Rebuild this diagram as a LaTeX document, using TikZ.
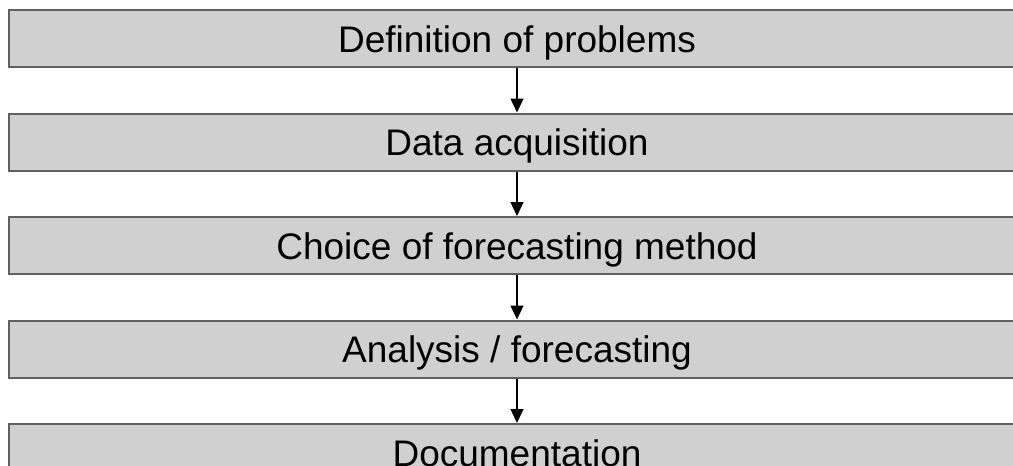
\documentclass[tikz,border=0pt]{standalone}
\usepackage{fontspec}
\setmainfont{Liberation Sans}
\usetikzlibrary{positioning,arrows.meta}
\definecolor{boxgray}{HTML}{D0D0D0}
\definecolor{edgegray}{HTML}{606060}
\tikzset{
  stagebox/.style={draw=edgegray, fill=boxgray, line width=2pt, minimum width=1016pt, minimum height=57pt, inner sep=0pt, text height=27pt, text depth=0pt, font=\fontsize{37}{40}\selectfont},
  flow/.style={-{Triangle[width=13pt,length=14pt]}, line width=1.3pt, black}
}
\begin{document}
\begin{tikzpicture}
\useasboundingbox (0,0) rectangle (1013pt,-466pt);
\node[stagebox] (def) at (517pt,-38.5pt) {Definition of problems};
\node[stagebox, below=44.5pt of def] (data) {Data acquisition};
\node[stagebox, below=44.5pt of data] (choice) {Choice of forecasting method};
\node[stagebox, below=44.5pt of choice] (fore) {Analysis / forecasting};
\node[stagebox, below=44.5pt of fore] (doc) {Documentation};
\draw[flow] (def) -- (data);
\draw[flow] (data) -- (choice);
\draw[flow] (choice) -- (fore);
\draw[flow] (fore) -- (doc);
\end{tikzpicture}
\end{document}
